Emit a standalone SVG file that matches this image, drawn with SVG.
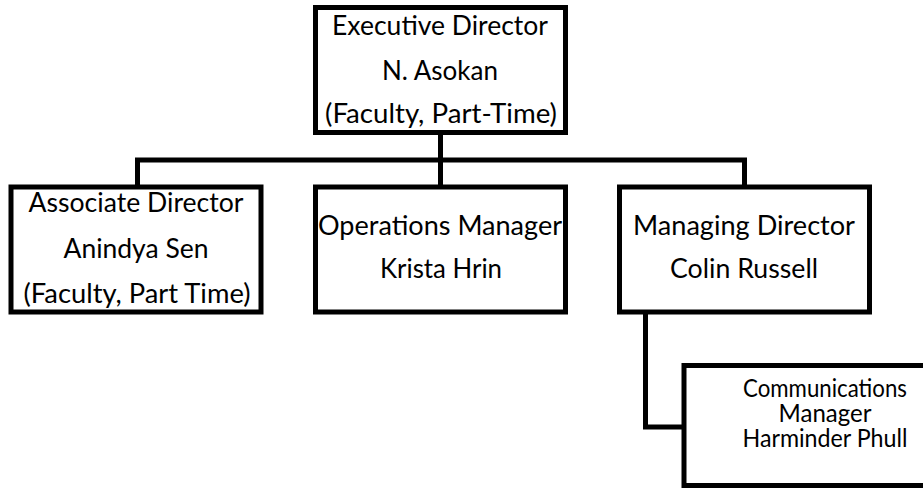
<svg xmlns="http://www.w3.org/2000/svg" width="923" height="491" viewBox="0 0 923 491">
<style>
.box{fill:#fff;stroke:#000;stroke-width:5}
.con{fill:none;stroke:#000;stroke-width:5;stroke-linejoin:miter}
.t{font-family:Lato,"Open Sans","Liberation Sans",sans-serif;font-size:26px;fill:#000;text-anchor:middle}
.s{font-size:24.5px}
</style>
<rect width="923" height="491" fill="#fff"/>
<g id="connectors">
<path class="con" d="M440.5,132.5 V160"/>
<path class="con" d="M137.5,187 V160 H744.5 V187"/>
<path class="con" d="M440.5,160 V187"/>
<path class="con" d="M645.5,312 V427 H684"/>
</g>
<g id="executive">
<rect class="box" x="315.5" y="7.5" width="250" height="125"/>
<text class="t" x="440" y="35" textLength="216" lengthAdjust="spacingAndGlyphs">Executive Director</text>
<text class="t" x="440" y="80" textLength="116" lengthAdjust="spacingAndGlyphs">N. Asokan</text>
<text class="t" x="441" y="123" textLength="232" lengthAdjust="spacingAndGlyphs">(Faculty, Part-Time)</text>
</g>
<g id="associate">
<rect class="box" x="11" y="187" width="250" height="125"/>
<text class="t" x="136" y="212" textLength="215" lengthAdjust="spacingAndGlyphs">Associate Director</text>
<text class="t" x="136" y="258" textLength="145" lengthAdjust="spacingAndGlyphs">Anindya Sen</text>
<text class="t" x="137" y="303" textLength="227" lengthAdjust="spacingAndGlyphs">(Faculty, Part Time)</text>
</g>
<g id="operations">
<rect class="box" x="315.5" y="187" width="250" height="125"/>
<text class="t" x="440" y="235" textLength="244" lengthAdjust="spacingAndGlyphs">Operations Manager</text>
<text class="t" x="441" y="278" textLength="122" lengthAdjust="spacingAndGlyphs">Krista Hrin</text>
</g>
<g id="managing">
<rect class="box" x="619.5" y="187" width="250" height="125"/>
<text class="t" x="744" y="235" textLength="222" lengthAdjust="spacingAndGlyphs">Managing Director</text>
<text class="t" x="744" y="278" textLength="148" lengthAdjust="spacingAndGlyphs">Colin Russell</text>
</g>
<g id="communications">
<rect class="box" x="684" y="365.5" width="260" height="120"/>
<text class="t s" x="825" y="397" textLength="164" lengthAdjust="spacingAndGlyphs">Communications</text>
<text class="t s" x="825" y="422" textLength="93" lengthAdjust="spacingAndGlyphs">Manager</text>
<text class="t s" x="825" y="447" textLength="165" lengthAdjust="spacingAndGlyphs">Harminder Phull</text>
</g>
</svg>
